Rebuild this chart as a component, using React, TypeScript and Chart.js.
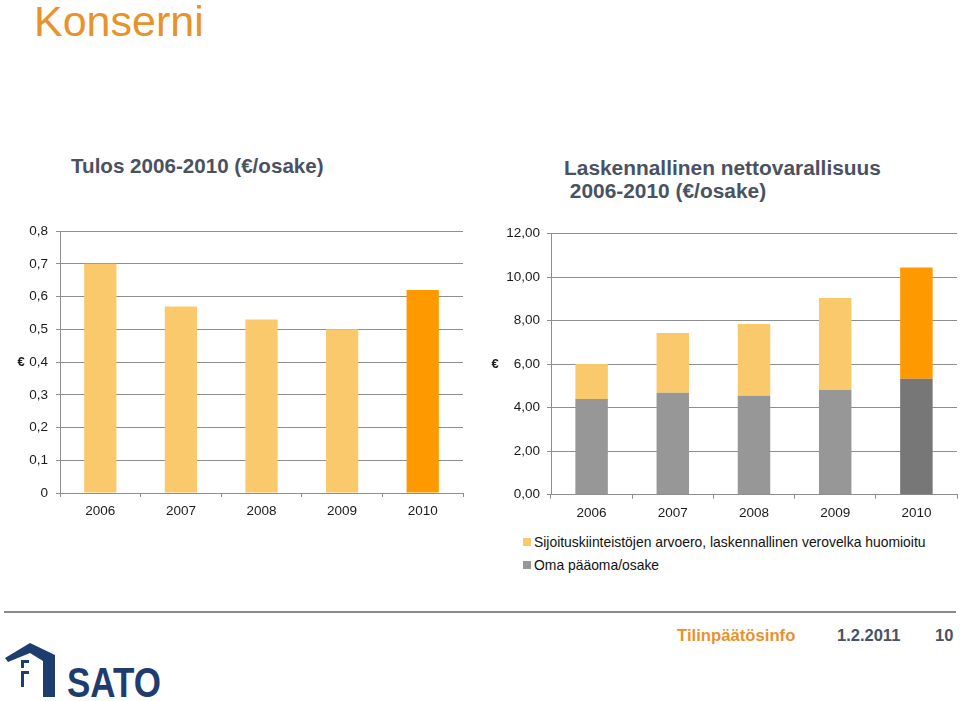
import React, { useEffect, useRef } from "react";
import { Chart, registerables } from "chart.js";

Chart.register(...registerables);

// ---- data ----
const years = ["2006", "2007", "2008", "2009", "2010"];
const tulosPerOsake = [0.7, 0.57, 0.53, 0.5, 0.62];
const omaPaaomaPerOsake = [4.4, 4.69, 4.55, 4.81, 5.33];
const arvoeroPerOsake = [1.61, 2.74, 3.3, 4.23, 5.12];
const leftTickLabels = ["0", "0,1", "0,2", "0,3", "0,4", "0,5", "0,6", "0,7", "0,8"];
const rightTickLabels = ["0,00", "2,00", "4,00", "6,00", "8,00", "10,00", "12,00"];
const seriesLabels = [
  "Sijoituskiinteistöjen arvoero, laskennallinen verovelka huomioitu",
  "Oma pääoma/osake",
];

// ---- styles ----
const LIGHT = "#FAC96C";
const ORANGE = "#FF9900";
const GRAY = "#979797";
const DARKGRAY = "#777777";
const GRID = "#8E8E8E";
const TICK = "#1a1a1a";
const FONT = "'Liberation Sans', Arial, Helvetica, sans-serif";
const TITLE = "#4A5262";
const ACCENT = "#E8922B";

const euroPlugin = (x: number) => ({
  id: "euroLabel",
  afterDraw(chart: any) {
    const { ctx, chartArea } = chart;
    ctx.save();
    ctx.font = `bold 13px ${FONT}`;
    ctx.fillStyle = TICK;
    ctx.textAlign = "center";
    ctx.textBaseline = "middle";
    ctx.fillText("€", x, (chartArea.top + chartArea.bottom) / 2);
    ctx.restore();
  },
});

function LeftChart() {
  const ref = useRef<HTMLCanvasElement>(null);
  useEffect(() => {
    const chart = new Chart(ref.current!, {
      type: "bar",
      data: {
        labels: years,
        datasets: [
          {
            data: tulosPerOsake,
            backgroundColor: years.map((_, i) => (i === years.length - 1 ? ORANGE : LIGHT)),
            barPercentage: 0.4,
            categoryPercentage: 1,
          },
        ],
      },
      options: {
        animation: false,
        responsive: false,
        maintainAspectRatio: false,
        layout: { padding: { top: 11, right: 7, bottom: 0, left: 0 } },
        plugins: { legend: { display: false }, tooltip: { enabled: false } },
        scales: {
          x: {
            grid: { drawOnChartArea: false, tickLength: 4, color: GRID, offset: true },
            border: { color: GRID },
            ticks: { font: { family: FONT, size: 13.5 }, color: TICK, padding: 6 },
            afterFit: (s: any) => {
              s.height = 32;
            },
          },
          y: {
            min: 0,
            max: 0.8,
            grid: { color: GRID, tickLength: 4 },
            border: { color: GRID },
            ticks: {
              stepSize: 0.1,
              font: { family: FONT, size: 13.5 },
              color: TICK,
              padding: 8,
              callback: (v: any) => leftTickLabels[Math.round(Number(v) * 10)],
            },
            afterFit: (s: any) => {
              s.width = 60;
            },
          },
        },
      },
      plugins: [euroPlugin(21)],
    } as any);
    return () => chart.destroy();
  }, []);
  return (
    <canvas
      ref={ref}
      width={470}
      height={310}
      style={{ position: "absolute", left: 0, top: 215, width: 470, height: 310 }}
    />
  );
}

function RightChart() {
  const ref = useRef<HTMLCanvasElement>(null);
  useEffect(() => {
    const last = years.length - 1;
    const chart = new Chart(ref.current!, {
      type: "bar",
      data: {
        labels: years,
        datasets: [
          {
            label: seriesLabels[1],
            data: omaPaaomaPerOsake,
            backgroundColor: years.map((_, i) => (i === last ? DARKGRAY : GRAY)),
            barPercentage: 0.4,
            categoryPercentage: 1,
          },
          {
            label: seriesLabels[0],
            data: arvoeroPerOsake,
            backgroundColor: years.map((_, i) => (i === last ? ORANGE : LIGHT)),
            barPercentage: 0.4,
            categoryPercentage: 1,
          },
        ],
      },
      options: {
        animation: false,
        responsive: false,
        maintainAspectRatio: false,
        layout: { padding: { top: 18.7, right: 3, bottom: 0, left: 0 } },
        plugins: { legend: { display: false }, tooltip: { enabled: false } },
        scales: {
          x: {
            stacked: true,
            grid: { drawOnChartArea: false, tickLength: 4, color: GRID, offset: true },
            border: { color: GRID },
            ticks: { font: { family: FONT, size: 13.5 }, color: TICK, padding: 6 },
            afterFit: (s: any) => {
              s.height = 30.3;
            },
          },
          y: {
            stacked: true,
            min: 0,
            max: 12,
            grid: { color: GRID, tickLength: 4 },
            border: { color: GRID },
            ticks: {
              stepSize: 2,
              font: { family: FONT, size: 13.5 },
              color: TICK,
              padding: 7,
              callback: (v: any) => rightTickLabels[Math.round(Number(v) / 2)],
            },
            afterFit: (s: any) => {
              s.width = 71;
            },
          },
        },
      },
      plugins: [euroPlugin(15)],
    } as any);
    return () => chart.destroy();
  }, []);
  return (
    <canvas
      ref={ref}
      width={480}
      height={310}
      style={{ position: "absolute", left: 480, top: 215, width: 480, height: 310 }}
    />
  );
}

function Logo() {
  return (
    <svg
      width={170}
      height={62}
      viewBox="0 0 170 62"
      style={{ position: "absolute", left: 0, top: 639 }}
    >
      <polygon points="5,19 30,4 55,16 55,58 43,58 43,22 30,14 8,23" fill="#1F3C6E" />
      <rect x={21} y={21} width={8} height={3} fill="#1F3C6E" />
      <rect x={21} y={21} width={3} height={8} fill="#1F3C6E" />
      <rect x={21} y={32} width={8} height={3} fill="#1F3C6E" />
      <rect x={21} y={32} width={3} height={16} fill="#1F3C6E" />
      <text
        x={67}
        y={58}
        fill="#1F3C6E"
        fontFamily="'Liberation Sans Narrow', 'Liberation Sans', Arial, sans-serif"
        fontWeight="bold"
        fontSize={42}
        textLength={94}
        lengthAdjust="spacingAndGlyphs"
      >
        SATO
      </text>
    </svg>
  );
}

export default function App() {
  const legendColors = [LIGHT, GRAY];
  return (
    <div
      style={{
        position: "absolute",
        left: 0,
        top: 0,
        width: 960,
        height: 701,
        background: "#fff",
        overflow: "hidden",
        fontFamily: FONT,
      }}
    >
      <div
        style={{
          position: "absolute",
          left: 34,
          top: -4,
          fontSize: 43,
          color: ACCENT,
          lineHeight: "50px",
        }}
      >
        Konserni
      </div>
      <div
        style={{
          position: "absolute",
          left: 71,
          top: 154,
          fontSize: 20.6,
          fontWeight: "bold",
          color: TITLE,
          lineHeight: "23px",
          whiteSpace: "nowrap",
        }}
      >
        Tulos 2006-2010 (€/osake)
      </div>
      <div
        style={{
          position: "absolute",
          left: 564,
          top: 156,
          fontSize: 20.9,
          fontWeight: "bold",
          color: TITLE,
          lineHeight: "23px",
          whiteSpace: "pre",
        }}
      >
        {"Laskennallinen nettovarallisuus\n 2006-2010 (€/osake)"}
      </div>
      <LeftChart />
      <RightChart />
      <div style={{ position: "absolute", left: 523, top: 530, fontSize: 13.9, color: "#111" }}>
        {seriesLabels.map((t, i) => (
          <div key={t} style={{ display: "flex", alignItems: "center", height: 23, whiteSpace: "nowrap" }}>
            <span
              style={{
                display: "inline-block",
                width: 8,
                height: 8,
                background: legendColors[i],
                marginRight: 3,
              }}
            />
            {t}
          </div>
        ))}
      </div>
      <div
        style={{
          position: "absolute",
          left: 4,
          top: 611,
          width: 952,
          height: 2,
          background: "#8A8A8A",
        }}
      />
      <div
        style={{
          position: "absolute",
          left: 677,
          top: 626,
          fontSize: 16.7,
          fontWeight: "bold",
          color: ACCENT,
          whiteSpace: "nowrap",
        }}
      >
        Tilinpäätösinfo
      </div>
      <div
        style={{
          position: "absolute",
          left: 837,
          top: 626,
          fontSize: 16.5,
          fontWeight: "bold",
          color: TITLE,
          whiteSpace: "nowrap",
        }}
      >
        1.2.2011
      </div>
      <div
        style={{
          position: "absolute",
          left: 935,
          top: 626,
          fontSize: 16.5,
          fontWeight: "bold",
          color: TITLE,
          whiteSpace: "nowrap",
        }}
      >
        10
      </div>
      <Logo />
    </div>
  );
}
